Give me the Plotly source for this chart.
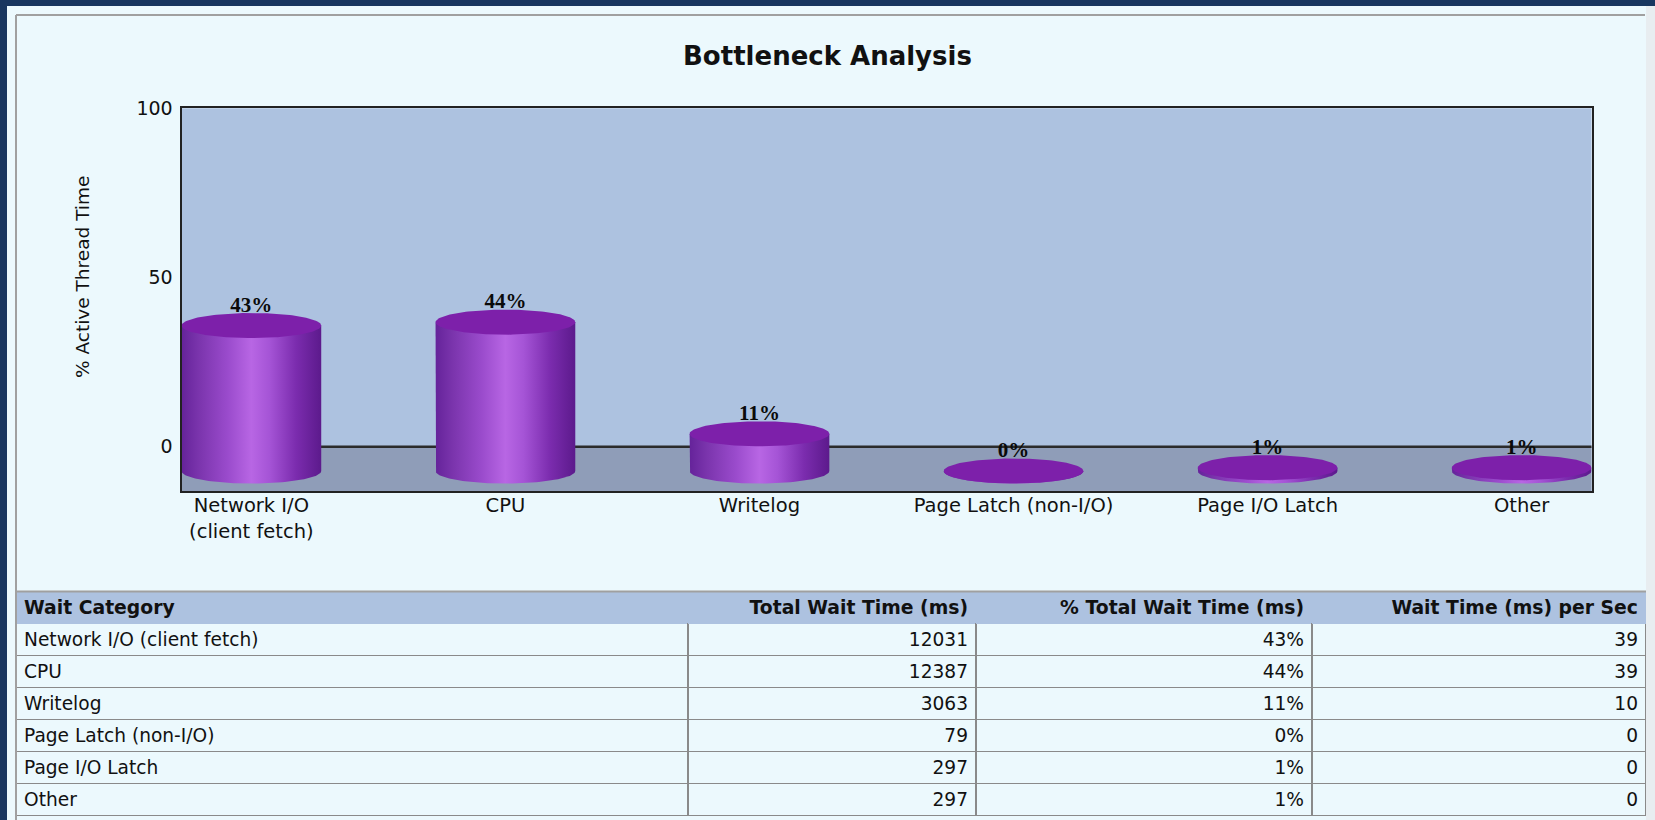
import numpy as np
import plotly.graph_objects as go

# ---------------- data ----------------
categories = ["Network I/O (client fetch)", "CPU", "Writelog",
              "Page Latch (non-I/O)", "Page I/O Latch", "Other"]
axis_labels = ["Network I/O<br>(client fetch)", "CPU", "Writelog",
               "Page Latch (non-I/O)", "Page I/O Latch", "Other"]
pct_active = [43, 44, 11, 0, 1, 1]
total_wait_ms = [12031, 12387, 3063, 79, 297, 297]
pct_total_wait = ["43%", "44%", "11%", "0%", "1%", "1%"]
wait_per_sec = [39, 39, 10, 0, 0, 0]
y_ticks = [0, 50, 100]
table_headers = ["Wait Category", "Total Wait Time (ms)",
                 "% Total Wait Time (ms)", "Wait Time (ms) per Sec"]

# ---------------- style constants ----------------
W, H = 1655, 820
NAVY = "#18365f"
PANEL = "#ecf9fd"
WALL = "#adc2e0"
FLOOR = "#8f9db8"
CAP = "#7d20aa"
BODY_SCALE = [[0.0, "#65239a"], [0.12, "#7a34ac"], [0.33, "#9a4bcc"],
              [0.5, "#b866e4"], [0.63, "#a554d6"], [0.82, "#7b2cae"],
              [1.0, "#5c1a8c"]]
BASE = -7.2      # front floor offset of the cylinders (3-D depth)
RX = 0.275       # cylinder half width (category units)
RY = 3.7         # ellipse half height (value units)
Y_MIN = -13.1

def px_x(p):
    return p / W

def px_y(p):
    return 1 - p / H

fig = go.Figure()

t_half = np.linspace(np.pi, 2 * np.pi, 80)
t_full = np.linspace(0, 2 * np.pi, 160)
for i, v in enumerate(pct_active):
    top = BASE + v
    xs = [i - RX] + list(i + RX * np.cos(t_half)) + [i + RX]
    ys = [top] + list(BASE + RY * np.sin(t_half)) + [top]
    fig.add_trace(go.Scatter(
        x=xs, y=ys, mode="lines", fill="toself",
        line=dict(width=0, color=CAP),
        fillgradient=dict(type="horizontal", colorscale=BODY_SCALE),
        hoverinfo="skip", showlegend=False))
    fig.add_trace(go.Scatter(
        x=list(i + RX * np.cos(t_full)), y=list(top + RY * np.sin(t_full)),
        mode="lines", fill="toself", fillcolor=CAP,
        line=dict(width=0, color=CAP),
        hoverinfo="skip", showlegend=False))

fig.add_trace(go.Scatter(
    x=list(range(len(pct_active))),
    y=[BASE + v + RY * 0.7 for v in pct_active],
    mode="text", text=[f"{v}%" for v in pct_active],
    textposition="top center",
    textfont=dict(family="Liberation Serif", size=21, color="#0a0a0a",
                  weight="bold"),
    hoverinfo="skip", showlegend=False, cliponaxis=False))

fig.add_trace(go.Table(
    domain=dict(x=[px_x(16), px_x(1646)], y=[0, px_y(591.7)]),
    columnwidth=[672, 288, 336, 334],
    header=dict(values=table_headers,
                fill_color=WALL,
                line=dict(color=WALL, width=1),
                align=["left", "right", "right", "right"],
                font=dict(family="DejaVu Sans", size=18.8, color="#111111",
                          weight="bold"),
                height=32),
    cells=dict(values=[categories, total_wait_ms, pct_total_wait, wait_per_sec],
               fill_color=PANEL,
               line=dict(color="#8a8a8a", width=1.5),
               align=["left", "right", "right", "right"],
               font=dict(family="DejaVu Sans", size=18.6, color="#111111"),
               height=32)))

shapes = [
    # floor of the 3-D chart
    dict(type="rect", xref="x domain", yref="y", x0=0, x1=1, y0=Y_MIN, y1=0,
         fillcolor=FLOOR, line=dict(width=0), layer="below"),
    dict(type="line", xref="x domain", yref="y", x0=0, x1=1, y0=0, y1=0,
         line=dict(color="#2b2b2b", width=2.5), layer="below"),
    # page frame
    dict(type="rect", xref="paper", yref="paper", x0=0, x1=px_x(7), y0=0, y1=1,
         fillcolor=NAVY, line=dict(width=0)),
    dict(type="rect", xref="paper", yref="paper", x0=0, x1=1, y0=px_y(6), y1=1,
         fillcolor=NAVY, line=dict(width=0)),
    dict(type="rect", xref="paper", yref="paper", x0=px_x(1646), x1=1, y0=0,
         y1=px_y(6), fillcolor="#e8edf0", line=dict(width=0)),
    dict(type="line", xref="paper", yref="paper", x0=px_x(16), x1=px_x(16),
         y0=0, y1=px_y(15), line=dict(color="#a0a0a0", width=2)),
    dict(type="line", xref="paper", yref="paper", x0=px_x(16), x1=px_x(1645),
         y0=px_y(15), y1=px_y(15), line=dict(color="#a0a0a0", width=2)),
    dict(type="line", xref="paper", yref="paper", x0=px_x(16), x1=px_x(1646),
         y0=px_y(591.5), y1=px_y(591.5), line=dict(color="#a0a0a0", width=2)),
]

fig.update_layout(
    width=W, height=H,
    margin=dict(l=0, r=0, t=0, b=0, autoexpand=False),
    paper_bgcolor=PANEL, plot_bgcolor=WALL,
    showlegend=False,
    shapes=shapes,
    title=dict(text="Bottleneck Analysis", x=0.5, xanchor="center",
               y=px_y(56), yanchor="middle", xref="paper", yref="paper",
               automargin=False,
               font=dict(family="DejaVu Sans", size=26, color="#111111",
                         weight="bold")),
    xaxis=dict(domain=[px_x(181.5), px_x(1591.5)],
               range=[-RX, len(pct_active) - 1 + RX],
               tickmode="array", tickvals=list(range(len(axis_labels))),
               ticktext=axis_labels, showgrid=False, zeroline=False,
               showline=True, mirror=True, linecolor="#222222", linewidth=2,
               ticks="", ticklabelstandoff=-4, automargin=False,
               tickfont=dict(family="DejaVu Sans", size=19.5, color="#111111"),
               fixedrange=True),
    yaxis=dict(domain=[px_y(491), px_y(108.3)],
               range=[Y_MIN, 100], tickmode="array", tickvals=y_ticks,
               showgrid=False, zeroline=False,
               showline=True, mirror=True, linecolor="#222222", linewidth=2,
               ticks="", ticklabelstandoff=3, automargin=False,
               tickfont=dict(family="DejaVu Sans", size=19, color="#111111"),
               fixedrange=True),
    annotations=[dict(text="% Active Thread Time", textangle=-90,
                      xref="paper", yref="paper", x=px_x(82), y=px_y(277),
                      xanchor="center", yanchor="middle", showarrow=False,
                      font=dict(family="DejaVu Sans", size=18.5,
                                color="#111111"))],
)

fig.write_html("out.html", config={"displayModeBar": False},
               post_script="document.body.style.margin='0';"
                           "document.body.style.overflow='hidden';")
